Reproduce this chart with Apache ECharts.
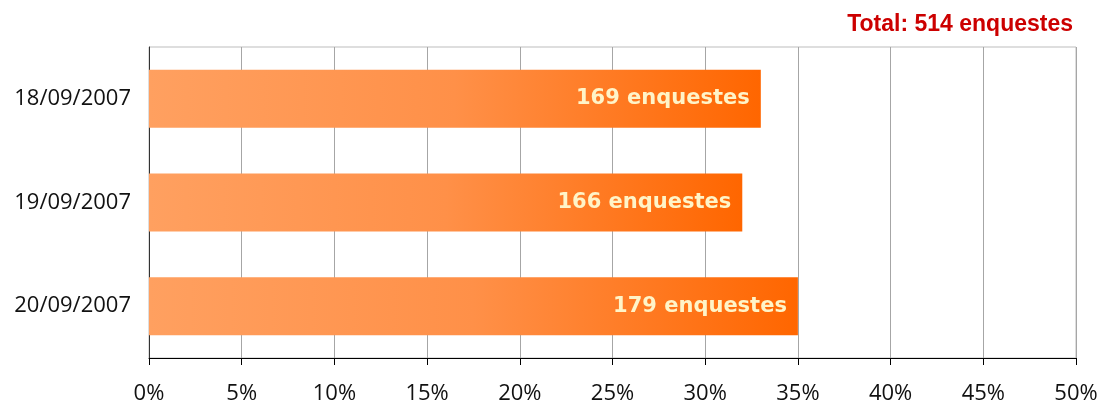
<!doctype html>
<html>
<head>
<meta charset="utf-8">
<title></title>
<script src="https://cdn.jsdelivr.net/npm/echarts@6/dist/echarts.min.js"></script>
<style>
	html, body { margin: 0; padding: 0; background: #fff; }
	#chart { width: 1109px; height: 408px; }
</style>
</head>
<body>
<div id="chart"></div>
<script type="text/javascript">
	// dates (top to bottom)
	var categories = ['18/09/2007', '19/09/2007', '20/09/2007'];
	// percentage of total
	var percents = [33, 32, 35];
	// number of surveys
	var counts = [169, 166, 179];
	var totalCount = 514;
	// x axis ticks
	var tickValues = [0, 5, 10, 15, 20, 25, 30, 35, 40, 45, 50];

	var chart = echarts.init(document.getElementById('chart'));

	var option = {
		animation: false,
		title: {
			text: 'Total: ' + totalCount + ' enquestes',
			right: 31,
			top: 8,
			textStyle: {
				color: '#CC0000',
				fontFamily: 'Liberation Sans',
				fontWeight: 'bold',
				fontSize: 23
			}
		},
		grid: {
			left: 149,
			right: 33,
			top: 47,
			bottom: 50,
			show: true,
			borderColor: '#BDBDBD',
			borderWidth: 1
		},
		xAxis: {
			type: 'value',
			min: tickValues[0],
			max: tickValues[tickValues.length - 1],
			interval: 5,
			axisLine: { show: true, lineStyle: { color: '#000', width: 1 } },
			axisTick: { show: true, length: 7, lineStyle: { color: '#000' } },
			splitLine: { show: true, lineStyle: { color: '#A6A6A6', width: 1 } },
			axisLabel: {
				formatter: '{value}%',
				color: '#111',
				fontFamily: 'Open Sans',
				fontSize: 22,
				margin: 25
			}
		},
		yAxis: {
			type: 'category',
			inverse: true,
			data: categories,
			axisLine: { show: true, lineStyle: { color: '#333', width: 1 } },
			axisTick: { show: false },
			axisLabel: {
				color: '#111',
				fontFamily: 'Open Sans',
				fontSize: 22,
				margin: 18,
				padding: [4, 0, 0, 0]
			}
		},
		series: [{
			type: 'bar',
			data: percents,
			barWidth: 58,
			itemStyle: {
				color: new echarts.graphic.LinearGradient(0, 0, 1, 0, [
					{ offset: 0, color: '#FFA060' },
					{ offset: 0.5, color: '#FF9048' },
					{ offset: 1, color: '#FF6600' }
				])
			},
			label: {
				show: true,
				position: 'insideRight',
				distance: 11,
				formatter: function(p) {
					return counts[p.dataIndex] + ' enquestes';
				},
				color: '#FFF4C8',
				fontFamily: 'DejaVu Sans',
				fontWeight: 'bold',
				fontSize: 21,
				padding: [4, 0, 0, 0]
			}
		}]
	};

	chart.setOption(option);
</script>
</body>
</html>
